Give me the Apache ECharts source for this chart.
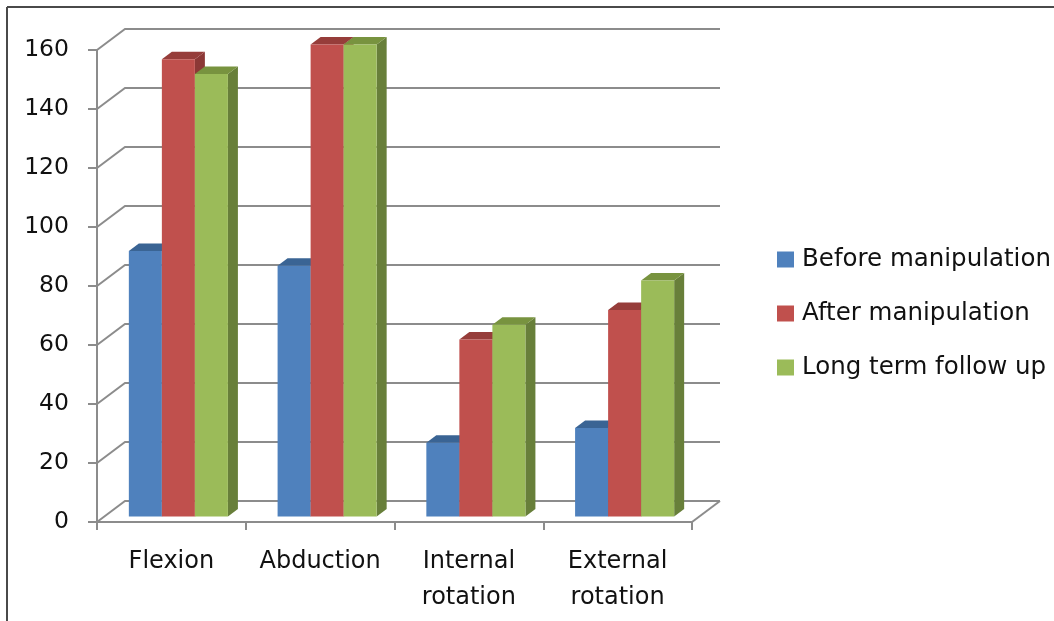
<!DOCTYPE html>
<html>
<head>
<meta charset="utf-8">
<script src="https://cdn.jsdelivr.net/npm/echarts@6/dist/echarts.min.js"></script>
<style>
  html, body { margin: 0; padding: 0; background: #fff; }
  #chart { width: 1054px; height: 621px; }
</style>
</head>
<body>
<div id="chart"></div>
<script>
// Range of motion (degrees) per movement
const categories = ['Flexion', 'Abduction', 'Internal\nrotation', 'External\nrotation'];
const seriesNames = ['Before manipulation', 'After manipulation', 'Long term follow up'];
const beforeManipulation = [90, 85, 25, 30];
const afterManipulation = [155, 160, 60, 70];
const longTermFollowUp = [150, 160, 65, 80];
const yTicks = [0, 20, 40, 60, 80, 100, 120, 140, 160];

// Face colours: front, top, side
const FRONT = ['#4f81bd', '#c0504d', '#9bbb59'];
const TOP = ['#3a6494', '#963d3a', '#78933f'];
const SIDE = ['#385d8a', '#8c3836', '#687f3a'];

// Pseudo-3D depth of the wall box and of the bars
const DEPTH_DX = 28, DEPTH_DY = -21;     // full depth of the floor/walls
const PLANE_DX = 7, PLANE_DY = -5.5;     // front plane of the bars
const BAR_DX = 10, BAR_DY = -7.5;        // thickness of each bar
const GRID_COLOR = '#8c8c8c';

const valueSets = [beforeManipulation, afterManipulation, longTermFollowUp];

function barRenderer(k) {
  return function (params, api) {
    const cat = api.value(0);
    const val = api.value(1);
    const base = api.coord([cat, 0]);
    const top = api.coord([cat, val]);
    const band = api.size([1, 0])[0];
    const w = band * 0.222;
    const l = base[0] - 1.5 * w + k * w + PLANE_DX;
    const r = l + w;
    const yT = top[1] + PLANE_DY;
    const yB = base[1] + PLANE_DY;
    return {
      type: 'group',
      children: [
        {
          type: 'polygon',
          shape: { points: [[r, yT], [r + BAR_DX, yT + BAR_DY], [r + BAR_DX, yB + BAR_DY], [r, yB]] },
          style: { fill: SIDE[k] }
        },
        {
          type: 'polygon',
          shape: { points: [[l, yT], [r, yT], [r + BAR_DX, yT + BAR_DY], [l + BAR_DX, yT + BAR_DY]] },
          style: { fill: TOP[k] }
        },
        {
          type: 'rect',
          shape: { x: l, y: yT, width: w, height: yB - yT },
          style: { fill: FRONT[k] }
        }
      ]
    };
  };
}

// Side wall, back wall and floor gridlines
function wallRenderer(params, api) {
  const cs = params.coordSys;
  const v = api.value(1);
  const y = api.coord([0, v])[1];
  const x0 = cs.x, x1 = cs.x + cs.width;
  const children = [{
    type: 'polyline',
    shape: { points: [[x0, y], [x0 + DEPTH_DX, y + DEPTH_DY], [x1 + DEPTH_DX, y + DEPTH_DY]] },
    style: { stroke: GRID_COLOR, lineWidth: 2, fill: null }
  }];
  if (v === 0) {
    children.push({
      type: 'line',
      shape: { x1: x1, y1: y, x2: x1 + DEPTH_DX, y2: y + DEPTH_DY },
      style: { stroke: GRID_COLOR, lineWidth: 2 }
    });
  }
  return { type: 'group', children: children };
}

const chart = echarts.init(document.getElementById('chart'), null, { renderer: 'canvas' });

const series = [{
  name: 'wall',
  type: 'custom',
  silent: true,
  z: 1,
  renderItem: wallRenderer,
  encode: { x: 0, y: 1 },
  data: yTicks.map(v => [0, v])
}];

seriesNames.forEach((name, k) => {
  series.push({
    name: name,
    type: 'custom',
    z: 3,
    itemStyle: { color: FRONT[k] },
    renderItem: barRenderer(k),
    encode: { x: 0, y: 1 },
    data: valueSets[k].map((v, i) => [i, v])
  });
});

chart.setOption({
  animation: false,
  backgroundColor: '#ffffff',
  textStyle: { fontFamily: 'DejaVu Sans' },
  graphic: [
    { type: 'line', shape: { x1: 7, y1: 7, x2: 1054, y2: 7 }, style: { stroke: '#4a4a4a', lineWidth: 2 } },
    { type: 'line', shape: { x1: 7, y1: 7, x2: 7, y2: 621 }, style: { stroke: '#4a4a4a', lineWidth: 2 } }
  ],
  grid: { left: 97, top: 50, width: 595, height: 472, containLabel: false },
  legend: {
    data: seriesNames,
    orient: 'vertical',
    left: 777,
    top: 244,
    padding: 0,
    icon: 'rect',
    itemWidth: 17,
    itemHeight: 16,
    itemGap: 23,
    textStyle: { fontFamily: 'DejaVu Sans', fontSize: 24.5, color: '#111', lineHeight: 31, padding: [0, 0, 0, 3] }
  },
  xAxis: {
    type: 'category',
    data: categories,
    axisLine: { show: true, lineStyle: { color: GRID_COLOR, width: 2 } },
    axisTick: { show: true, interval: 0, length: 8, lineStyle: { color: GRID_COLOR, width: 2 } },
    axisLabel: { interval: 0, hideOverlap: false, margin: 22, fontSize: 24, lineHeight: 36, color: '#111', fontFamily: 'DejaVu Sans' },
    splitLine: { show: false }
  },
  yAxis: {
    type: 'value',
    min: 0,
    max: 160,
    interval: 20,
    axisLine: { show: true, lineStyle: { color: GRID_COLOR, width: 2 } },
    axisTick: { show: true, length: 9, lineStyle: { color: GRID_COLOR, width: 2 } },
    axisLabel: { margin: 28, fontSize: 23.5, color: '#111', fontFamily: 'DejaVu Sans' },
    splitLine: { show: false }
  },
  series: series
});
</script>
</body>
</html>
